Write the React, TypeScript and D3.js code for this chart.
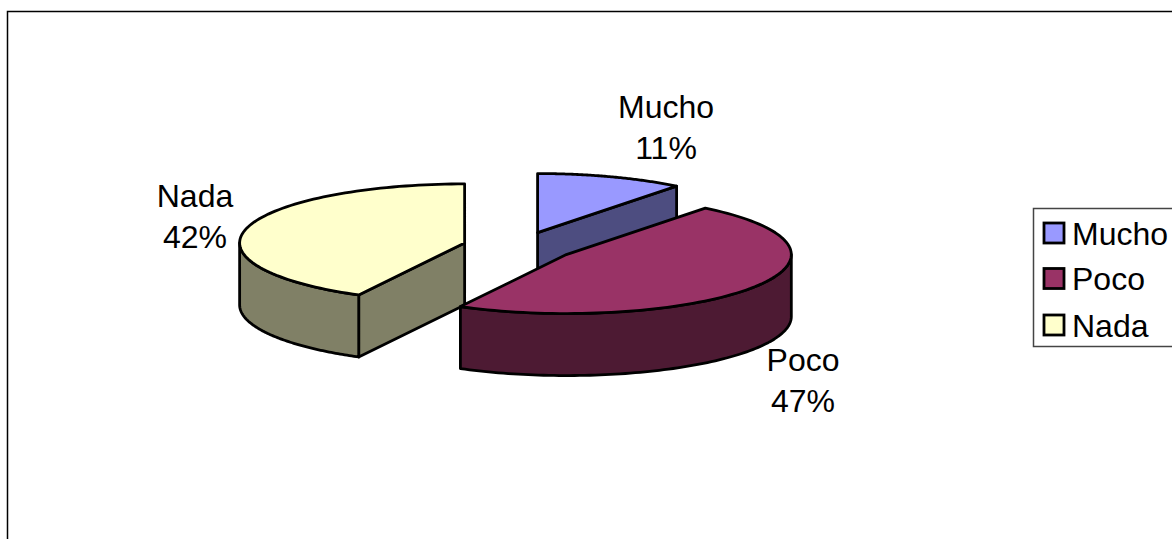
import React from "react";
import * as d3 from "d3";

const categories = ["Mucho", "Poco", "Nada"];
const values = [10.6, 47.2, 42.2];
const topColors = ["#9999FF", "#993366", "#FFFFCC"];
const sideColors = ["#4D4D80", "#4D1A33", "#808066"];

const W = 1172, H = 539;
const CX = 519.2, CY = 246.5, RX = 225, RY = 59, DEPTH = 62, EX = 0.25;
const FONT = "'Liberation Sans', Arial, sans-serif";
const FS = 32;
const STROKE = "#000";
const SW = 2.8;

const labelPos: Record<string, [number, number]> = {
  Mucho: [666, 118],
  Poco: [803, 371],
  Nada: [195, 207],
};
const LINE = 41;
const legendRows = [233, 278.5, 325];

const line = d3.line<[number, number]>().x(d => d[0]).y(d => d[1]);

export default function App() {
  const total = d3.sum(values);
  const pie = d3.pie<number>().sort(null).value(d => d)(values);
  const fmt = (v: number) => d3.format(".0%")(v / total);

  const slices = pie.map((p, i) => {
    const mid = (p.startAngle + p.endAngle) / 2;
    const cx = CX + EX * RX * Math.sin(mid);
    const cy = CY - EX * RY * Math.cos(mid);
    const pt = (t: number, dz = 0): [number, number] => [cx + RX * Math.sin(t), cy - RY * Math.cos(t) + dz];
    const sample = (a: number, b: number, dz = 0) => {
      const n = 90;
      return d3.range(n + 1).map(k => pt(a + ((b - a) * k) / n, dz));
    };
    const top = line([[cx, cy], ...sample(p.startAngle, p.endAngle)])! + "Z";
    const walls: string[] = [];
    // cut faces, seen from the front only when they face the viewer
    const faces = [p.startAngle, p.endAngle];
    faces.forEach((t, j) => {
      const visible = (j === 1 && Math.sin(t) > 0 && Math.cos(t) > 0) || (j === 0 && Math.sin(t) < 0 && Math.cos(t) < 0);
      if (visible) {
        walls.push(line([[cx, cy], pt(t), pt(t, DEPTH), [cx, cy + DEPTH]])! + "Z");
      }
    });
    // outer rim, front half only
    const a = Math.max(p.startAngle, Math.PI / 2);
    const b = Math.min(p.endAngle, (3 * Math.PI) / 2);
    if (b > a) {
      walls.push(line([...sample(a, b), ...sample(a, b, DEPTH).reverse()])! + "Z");
    }
    return { i, top, walls };
  });

  // Mucho and Nada sit behind Poco
  const order = [0, 2, 1];

  return (
    <svg width={W} height={H} style={{ position: "fixed", left: 0, top: 0, display: "block", background: "#fff" }}>
      <rect x={7.5} y={11.5} width={W + 20} height={H + 20} fill="#fff" stroke="#000" strokeWidth={1.5} />
      {order.map(idx => {
        const s = slices[idx];
        return (
          <g key={idx} stroke={STROKE} strokeWidth={SW} strokeLinejoin="round">
            {s.walls.map((d, k) => <path key={k} d={d} fill={sideColors[idx]} />)}
            <path d={s.top} fill={topColors[idx]} />
          </g>
        );
      })}
      {categories.map((c, i) => (
        <text key={c} fontFamily={FONT} fontSize={FS} fill="#000" textAnchor="middle">
          <tspan x={labelPos[c][0]} y={labelPos[c][1]}>{c}</tspan>
          <tspan x={labelPos[c][0]} y={labelPos[c][1] + LINE}>{fmt(values[i])}</tspan>
        </text>
      ))}
      <rect x={1033.5} y={208.5} width={W} height={138} fill="#fff" stroke="#444" strokeWidth={1.5} />
      {categories.map((c, i) => (
        <g key={c}>
          <rect x={1044} y={legendRows[i] - 10} width={20} height={20} fill={topColors[i]} stroke="#000" strokeWidth={2.8} />
          <text x={1072} y={legendRows[i] + 11.5} fontFamily={FONT} fontSize={FS} fill="#000">{c}</text>
        </g>
      ))}
    </svg>
  );
}
